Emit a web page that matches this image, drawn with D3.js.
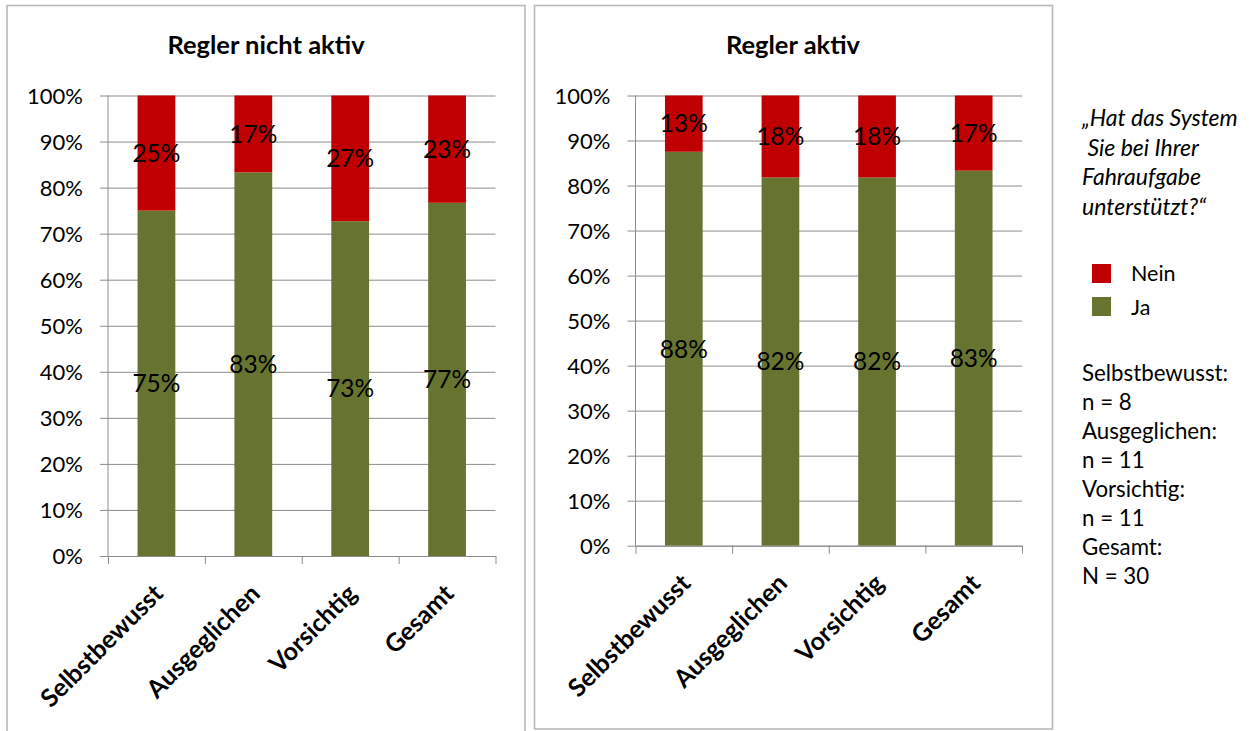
<!DOCTYPE html>
<html><head><meta charset="utf-8">
<script src="https://cdn.jsdelivr.net/npm/d3@7"></script>
<style>
body{margin:0;background:#fff;}
svg{display:block;font-family:Lato,"Open Sans",sans-serif;}
</style></head>
<body>
<svg id="c" width="1256" height="731"></svg>
<script>
const categories = ["Selbstbewusst","Ausgeglichen","Vorsichtig","Gesamt"];
const titles = ["Regler nicht aktiv","Regler aktiv"];
const jaNichtAktiv = [75, 83.3, 72.7, 76.7];
const neinNichtAktiv = [25, 16.7, 27.3, 23.3];
const jaAktiv = [87.5, 81.8, 81.8, 83.3];
const neinAktiv = [12.5, 18.2, 18.2, 16.7];
const yTicks = [0,10,20,30,40,50,60,70,80,90,100];
const seriesNames = ["Nein","Ja"];
const colors = {Ja:"#677430", Nein:"#C00000"};
const questionLines = ["\u201EHat das System"," Sie bei Ihrer","Fahraufgabe","unterst\u00FCtzt?\u201C"];
const nLines = ["Selbstbewusst:","n = 8","Ausgeglichen:","n = 11","Vorsichtig:","n = 11","Gesamt:","N = 30"];

const svg = d3.select("#c");
const gridColor = "#8c8c8c";

const panels = [
  {title:titles[0], ja:jaNichtAktiv, nein:neinNichtAktiv,
   frame:{x:7,y:5.5,w:518,h:740}, x0:108, x1:495.5, y0:556, y1:95.5, titleX:266},
  {title:titles[1], ja:jaAktiv, nein:neinAktiv,
   frame:{x:534.5,y:5.5,w:518,h:723.5}, x0:635.5, x1:1022, y0:545.7, y1:95.5, titleX:793}
];

panels.forEach(p=>{
  const g = svg.append("g");
  g.append("rect").attr("x",p.frame.x).attr("y",p.frame.y).attr("width",p.frame.w).attr("height",p.frame.h)
    .attr("fill","#fff").attr("stroke","#b8b8b8").attr("stroke-width",1.6);
  g.append("text").attr("x",p.titleX).attr("y",54).attr("text-anchor","middle")
    .attr("font-weight","bold").attr("font-size",25.5).text(p.title);

  const x = d3.scaleBand().domain(categories).range([p.x0,p.x1]).paddingInner(0.61).paddingOuter(0.305);
  const y = d3.scaleLinear().domain([0,100]).range([p.y0,p.y1]);

  const yAxis = d3.axisLeft(y).tickValues(yTicks).tickFormat(d=>d+"%").tickSize(-(p.x1-p.x0)).tickPadding(25);
  const ya = g.append("g").attr("transform",`translate(${p.x0},0)`).call(yAxis);
  ya.select(".domain").remove();
  ya.selectAll(".tick line").attr("stroke",gridColor).attr("x1",-8);
  ya.selectAll(".tick text").attr("font-size",22).attr("fill","#000").attr("font-family","Lato, sans-serif").attr("dy","0.36em");

  const bw = x.bandwidth();
  categories.forEach((c,i)=>{
    g.append("rect").attr("x",x(c)).attr("width",bw).attr("y",y(p.ja[i])).attr("height",y(0)-y(p.ja[i])).attr("fill",colors.Ja);
    g.append("rect").attr("x",x(c)).attr("width",bw).attr("y",y(100)).attr("height",y(p.ja[i])-y(100)).attr("fill",colors.Nein);
  });

  g.append("line").attr("x1",p.x0).attr("x2",p.x0).attr("y1",p.y1).attr("y2",p.y0).attr("stroke",gridColor);
  const xb = d3.scaleLinear().domain([0,categories.length]).range([p.x0,p.x1]);
  const xa = g.append("g").attr("transform",`translate(0,${p.y0})`)
    .call(d3.axisBottom(xb).tickValues(d3.range(categories.length+1)).tickFormat("").tickSize(8).tickSizeOuter(0));
  xa.select(".domain").attr("stroke",gridColor);
  xa.selectAll(".tick line").attr("stroke",gridColor);

  categories.forEach(c=>{
    const cx = x(c)+bw/2;
    g.append("text").attr("transform",`translate(${cx+2},${p.y0+33}) rotate(-45)`)
      .attr("text-anchor","end").attr("font-weight","bold").attr("font-size",25).attr("dy","0.35em").text(c);
  });

  categories.forEach((c,i)=>{
    const cx = x(c)+bw/2;
    g.append("text").attr("x",cx).attr("y",y(p.ja[i]/2)).attr("dy","0.36em").attr("text-anchor","middle")
      .attr("font-size",24.5).text(Math.round(p.ja[i])+"%");
    g.append("text").attr("x",cx).attr("y",y(p.ja[i]+p.nein[i]/2)).attr("dy","0.36em").attr("text-anchor","middle")
      .attr("font-size",24.5).text(Math.round(p.nein[i])+"%");
  });
});

const lg = svg.append("g");
questionLines.forEach((t,i)=>{
  lg.append("text").attr("x",1082).attr("y",118+i*29.5).attr("dy","0.35em").attr("font-style","italic")
    .attr("font-size",23).style("white-space","pre").text(t);
});
seriesNames.forEach((s,i)=>{
  lg.append("rect").attr("x",1092).attr("y",264+i*33).attr("width",19).attr("height",19).attr("fill",colors[s]);
  lg.append("text").attr("x",1131).attr("y",273.5+i*34).attr("dy","0.35em").attr("font-size",21.5).text(s);
});
nLines.forEach((t,i)=>{
  lg.append("text").attr("x",1082).attr("y",373+i*29).attr("dy","0.35em").attr("font-size",22.3).text(t);
});
</script>
</body></html>
